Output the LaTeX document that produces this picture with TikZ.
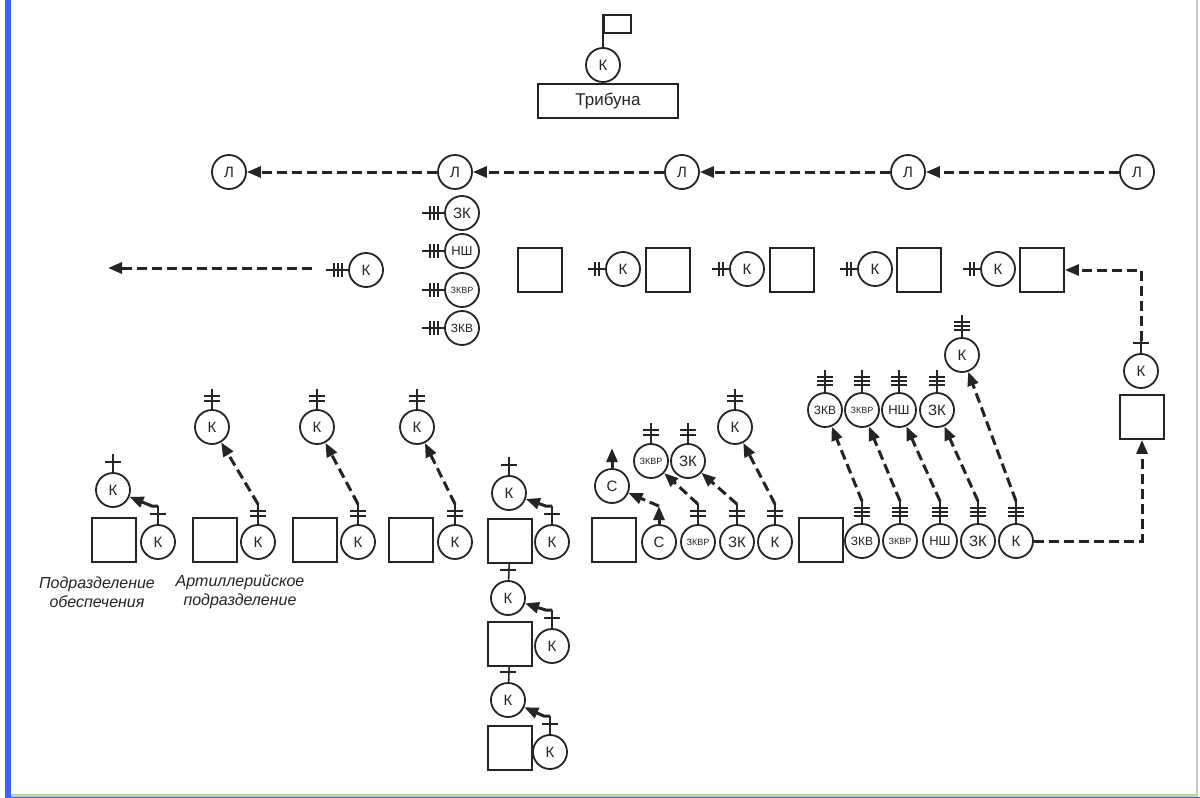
\documentclass[tikz,border=0pt]{standalone}
\usepackage{fontspec}
\setmainfont{Liberation Sans}
\usetikzlibrary{arrows.meta,calc}
\definecolor{ink}{rgb}{0.14,0.14,0.14}
\definecolor{blueb}{RGB}{60,100,250}
\definecolor{grayb}{RGB}{200,200,200}
\newcommand\antU[3]{%
  \draw[ant] (#1.north) -- ++(0,-#2) coordinate (#1-top);
  \foreach \tk in {#3} {\draw[ant] ([shift={(-8,-\tk)}]#1.north) -- ++(16,0);}%
}
\newcommand\antL[3]{%
  \draw[ant] (#1.west) -- ++(-#2,0) coordinate (#1-top);
  \foreach \tk in {#3} {\draw[ant] ([shift={(-\tk,-7)}]#1.west) -- ++(0,14);}%
}
\begin{document}
\begin{tikzpicture}[x=1pt,y=-1pt,
  cn/.style={circle, draw=ink, line width=1.8pt, minimum size=34pt, inner sep=0pt, font=\fontsize{15}{15}\selectfont, text=ink},
  sq/.style={draw=ink, line width=1.8pt, minimum width=44pt, minimum height=44pt, inner sep=0pt},
  ant/.style={draw=ink, line width=1.6pt},
  dar/.style={draw=ink, line width=3pt, dash pattern=on 10pt off 5pt, -{Triangle[length=14pt,width=11pt]}},
  sar/.style={draw=ink, line width=3pt, -{Triangle[length=14pt,width=11pt]}},
  lab/.style={align=center, text=ink, font=\fontsize{16}{19}\selectfont\itshape},
  s8/.style={font=\fontsize{9}{9}\selectfont},
  s11/.style={font=\fontsize{12}{12}\selectfont},
  s12/.style={font=\fontsize{13}{13}\selectfont},
]
\fill[white] (0,0) rectangle (1200,798);
\useasboundingbox (0,0) rectangle (1200,798);
\fill[grayb] (11,794) rectangle (1198,797);
\fill[grayb] (1196,0) rectangle (1198,797);
\fill[blueb] (5,797) rectangle (1200,798);
\fill[blueb] (5,0) rectangle (11,798);

% top
\node[cn] (kt) at (603,65) {К};
\node[draw=ink, line width=1.6pt, minimum width=27pt, minimum height=18pt, inner sep=0pt, anchor=south west] (flag) at (603,34) {};
\draw[ant] (kt.north) -- (flag.north west);
\node[draw=ink, line width=1.8pt, minimum width=140pt, minimum height=34pt, font=\fontsize{17}{17}\selectfont, text=ink] (trib) at (608,101) {Трибуна};

% row L
\node[cn] (l1) at (229,172) {Л};
\node[cn] (l2) at (455,172) {Л};
\node[cn] (l3) at (682,172) {Л};
\node[cn] (l4) at (908,172) {Л};
\node[cn] (l5) at (1137,172) {Л};
\draw[dar] (l5) -- (l4);
\draw[dar] (l4) -- (l3);
\draw[dar] (l3) -- (l2);
\draw[dar] (l2) -- (l1);

% row 2
\coordinate (fa) at (312,268);
\coordinate (fb) at (108,268);
\draw[dar] (fa) -- (fb);
\node[cn] (k0) at (366,270) {К};
\antL{k0}{22}{6,10,14}
\node[cn] (c1) at (462,213) {ЗК};
\node[cn,s12] (c2) at (462,251) {НШ};
\node[cn,s8] (c3) at (462,290) {ЗКВР};
\node[cn,s11] (c4) at (462,328) {ЗКВ};
\antL{c1}{22}{6,10,14}
\antL{c2}{22}{6,10,14}
\antL{c3}{22}{6,10,14}
\antL{c4}{22}{6,10,14}
\node[sq] (r0) at (540,270) {};
\node[cn] (rk1) at (623,269) {К};
\node[sq] (rs1) at (668,270) {};
\node[cn] (rk2) at (747,269) {К};
\node[sq] (rs2) at (792,270) {};
\node[cn] (rk3) at (875,269) {К};
\node[sq] (rs3) at (919,270) {};
\node[cn] (rk4) at (998,269) {К};
\node[sq] (rs4) at (1042,270) {};
\antL{rk1}{17}{6,10}
\antL{rk2}{17}{6,10}
\antL{rk3}{17}{6,10}
\antL{rk4}{17}{6,10}

% right column
\node[cn] (kR) at (1141,371) {К};
\antU{kR}{18}{10}
\node[sq] (sR) at (1142,417) {};
\draw[dar] ([yshift=-6pt]kR-top) |- (rs4.east);

% group 1
\node[sq] (g1s) at (114,540) {};
\node[cn] (g1k) at (158,542) {К};
\node[cn] (g1u) at (113,490) {К};
\antU{g1k}{18}{10}
\antU{g1u}{18}{10}
\draw[sar] (g1k-top) -- ++(-6,0) -- (g1u);
\node[lab] (lab1) at (97,592) {Подразделение\\обеспечения};

% group 2-4
\node[sq] (g2s) at (215,540) {};
\node[cn] (g2k) at (258,542) {К};
\node[cn] (g2u) at (212,427) {К};
\node[sq] (g3s) at (315,540) {};
\node[cn] (g3k) at (358,542) {К};
\node[cn] (g3u) at (317,427) {К};
\node[sq] (g4s) at (411,540) {};
\node[cn] (g4k) at (455,542) {К};
\node[cn] (g4u) at (417,427) {К};
\foreach \n in {g2k,g2u,g3k,g3u,g4k,g4u} {\antU{\n}{20}{8,13}}
\draw[dar] (g2k-top) -- (g2u);
\draw[dar] (g3k-top) -- (g3u);
\draw[dar] (g4k-top) -- (g4u);
\node[lab] (lab2) at (240,592) {Артиллерийское\\подразделение};

% group 5 (stack)
\node[cn] (g5u1) at (509,493) {К};
\node[sq] (g5s1) at (510,541) {};
\node[cn] (g5k1) at (552,542) {К};
\node[cn] (g5u2) at (508,598) {К};
\node[sq] (g5s2) at (510,644) {};
\node[cn] (g5k2) at (552,646) {К};
\node[cn] (g5u3) at (508,700) {К};
\node[sq] (g5s3) at (510,748) {};
\node[cn] (g5k3) at (550,752) {К};
\antU{g5u1}{18}{10}
\antU{g5k1}{18}{10}
\antU{g5k2}{18}{10}
\antU{g5k3}{18}{10}
\draw[ant] (g5u2) -- (g5s1);
\draw[ant] ([shift={(-8,-10)}]g5u2.north) -- ++(16,0);
\draw[ant] (g5u3) -- (g5s2);
\draw[ant] ([shift={(-8,-10)}]g5u3.north) -- ++(16,0);
\draw[sar] (g5k1-top) -- ++(-6,0) -- (g5u1);
\draw[sar] (g5k2-top) -- ++(-6,0) -- (g5u2);
\draw[sar] (g5k3-top) -- ++(-6,0) -- (g5u3);

% group 6
\node[sq] (g6s) at (614,540) {};
\node[cn] (g6c) at (659,542) {С};
\node[cn,s8] (g6a) at (698,542) {ЗКВР};
\node[cn] (g6b) at (737,542) {ЗК};
\node[cn] (g6k) at (775,542) {К};
\node[cn] (g6uc) at (612,486) {С};
\node[cn,s8] (g6ua) at (651,461) {ЗКВР};
\node[cn] (g6ub) at (688,461) {ЗК};
\node[cn] (g6uk) at (735,427) {К};
\foreach \n in {g6a,g6b,g6k,g6ua,g6ub,g6uk} {\antU{\n}{20}{8,13}}
\draw[sar] (g6c.north) -- ++(0,-18) coordinate (g6c-top);
\draw[sar] (g6uc.north) -- ++(0,-20) coordinate (g6uc-top);
\draw[dar] (g6c-top) -- (g6uc);
\draw[dar] (g6a-top) -- (g6ua);
\draw[dar] (g6b-top) -- (g6ub);
\draw[dar] (g6k-top) -- (g6uk);

% group 7
\node[sq] (g7s) at (821,540) {};
\node[cn,s11] (g7a) at (862,541) {ЗКВ};
\node[cn,s8] (g7b) at (900,541) {ЗКВР};
\node[cn,s12] (g7c) at (940,541) {НШ};
\node[cn] (g7d) at (978,541) {ЗК};
\node[cn] (g7k) at (1016,541) {К};
\node[cn,s11] (g7ua) at (825,410) {ЗКВ};
\node[cn,s8] (g7ub) at (862,410) {ЗКВР};
\node[cn,s12] (g7uc) at (899,410) {НШ};
\node[cn] (g7ud) at (937,410) {ЗК};
\node[cn] (g7uk) at (962,355) {К};
\foreach \n in {g7a,g7b,g7c,g7d,g7k,g7ua,g7ub,g7uc,g7ud,g7uk} {\antU{\n}{22}{7,11,15}}
\draw[dar] (g7a-top) -- (g7ua);
\draw[dar] (g7b-top) -- (g7ub);
\draw[dar] (g7c-top) -- (g7uc);
\draw[dar] (g7d-top) -- (g7ud);
\draw[dar] (g7k-top) -- (g7uk);
\draw[dar] (g7k.east) -| (sR.south);
\end{tikzpicture}
\end{document}
